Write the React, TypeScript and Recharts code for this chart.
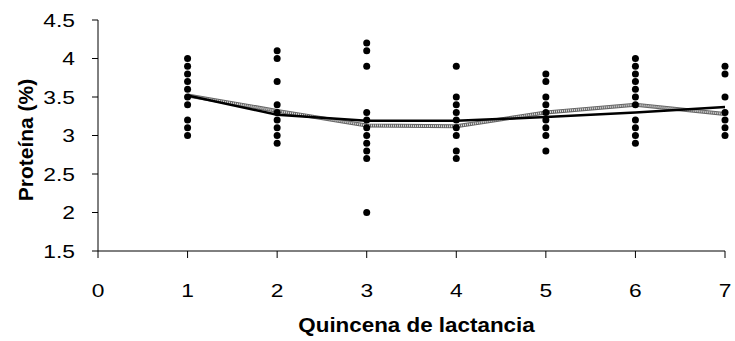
import React from "react";
import { ComposedChart, Scatter, Line, XAxis, YAxis, Label } from "recharts";

// quincenas (x) and the individual protein readings for each
const quincenas = [1, 2, 3, 4, 5, 6, 7];
const obs1 = [4.0, 3.9, 3.8, 3.7, 3.6, 3.5, 3.4, 3.2, 3.1, 3.0];
const obs2 = [4.1, 4.0, 3.7, 3.4, 3.3, 3.2, 3.1, 3.0, 2.9];
const obs3 = [4.2, 4.1, 3.9, 3.3, 3.2, 3.1, 3.0, 2.9, 2.8, 2.7, 2.0];
const obs4 = [3.9, 3.5, 3.4, 3.3, 3.2, 3.1, 3.0, 2.8, 2.7];
const obs5 = [3.8, 3.7, 3.5, 3.4, 3.3, 3.2, 3.1, 3.0, 2.8];
const obs6 = [4.0, 3.9, 3.8, 3.7, 3.6, 3.5, 3.4, 3.2, 3.1, 3.0, 2.9];
const obs7 = [3.9, 3.8, 3.5, 3.3, 3.2, 3.1, 3.0];

// fitted curves
const ajusteNegro = [3.52, 3.27, 3.19, 3.19, 3.24, 3.3, 3.37];
const ajusteGris = [3.52, 3.32, 3.13, 3.12, 3.3, 3.4, 3.28];

const xTicks = [0, 1, 2, 3, 4, 5, 6, 7];
const yTicks = [1.5, 2, 2.5, 3, 3.5, 4, 4.5];

const allObs = [obs1, obs2, obs3, obs4, obs5, obs6, obs7];
const puntos = allObs.flatMap((vals, i) => vals.map((v) => ({ x: quincenas[i], y: v })));
const negro = quincenas.map((q, i) => ({ x: q, v: ajusteNegro[i] }));
const gris = quincenas.map((q, i) => ({ x: q, v: ajusteGris[i] }));

const font = "'Liberation Sans', Arial, sans-serif";

const YTick = (p: any) => (
  <g transform={`translate(${p.x},${p.y})`}>
    <text transform="scale(1.2,1)" textAnchor="end" dy="0.36em" fontSize={19} fontFamily={font} fill="#000">
      {p.payload.value}
    </text>
  </g>
);

const XTick = (p: any) => (
  <g transform={`translate(${p.x},${p.y})`}>
    <text transform="scale(1.2,1)" textAnchor="middle" fontSize={19} fontFamily={font} fill="#000">
      {p.payload.value}
    </text>
  </g>
);

const XLabel = (p: any) => {
  const vb = p.viewBox;
  const cx = vb.x + vb.width / 2 + 5;
  const y = vb.y + 81;
  return (
    <g transform={`translate(${cx},${y})`}>
      <text transform="scale(1.12,1)" textAnchor="middle" fontSize={20} fontWeight="bold" fontFamily={font} fill="#000">
        Quincena de lactancia
      </text>
    </g>
  );
};

const YLabel = () => (
  <text
    x={33}
    y={140}
    transform="rotate(-90, 33, 140)"
    textAnchor="middle"
    fontSize={21}
    fontWeight="bold"
    fontFamily={font}
    fill="#000"
  >
    Proteína (%)
  </text>
);

export default function App() {
  return (
    <div style={{ position: "absolute", left: 0, top: 0, background: "#fff" }}>
      <ComposedChart width={735} height={341} margin={{ top: 20, right: 10, left: 0, bottom: 0 }}>
        <XAxis
          type="number"
          dataKey="x"
          domain={[0, 7]}
          ticks={xTicks}
          height={90}
          tickSize={7}
          tickMargin={39}
          tick={XTick}
          axisLine={{ stroke: "#000" }}
          tickLine={{ stroke: "#000" }}
        >
          <Label content={XLabel} />
        </XAxis>
        <YAxis
          type="number"
          dataKey="y"
          domain={[1.5, 4.5]}
          ticks={yTicks}
          width={98}
          tickSize={6}
          tickMargin={17}
          tick={YTick}
          axisLine={{ stroke: "#000" }}
          tickLine={{ stroke: "#000" }}
        >
          <Label content={YLabel} />
        </YAxis>
        <Line data={gris} dataKey="v" stroke="#666" strokeWidth={4} dot={false} isAnimationActive={false} />
        <Line data={gris} dataKey="v" stroke="#ddd" strokeWidth={2} strokeDasharray="1 1" dot={false} isAnimationActive={false} />
        <Line data={negro} dataKey="v" stroke="#000" strokeWidth={2.5} dot={false} isAnimationActive={false} />
        <Scatter
          data={puntos}
          dataKey="y"
          isAnimationActive={false}
          shape={(p: any) => <circle cx={p.cx} cy={p.cy} r={3.5} fill="#000" />}
        />
      </ComposedChart>
    </div>
  );
}
